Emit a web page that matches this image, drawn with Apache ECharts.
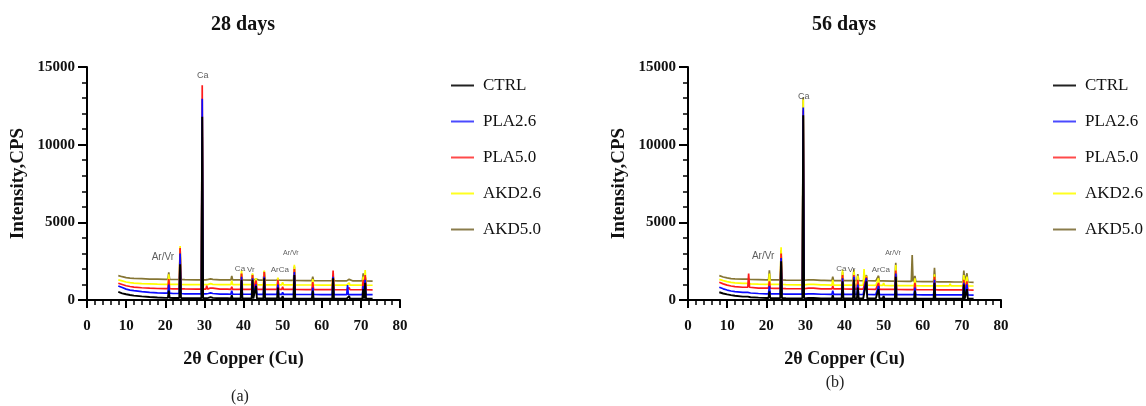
<!DOCTYPE html>
<html>
<head>
<meta charset="utf-8">
<script src="https://cdn.jsdelivr.net/npm/echarts@6/dist/echarts.min.js"></script>
<style>
html,body{margin:0;padding:0;background:#fff;}
#chart{width:1146px;height:406px;}
</style>
</head>
<body>
<div id="chart"></div>
<script>
// ---------- DATA ----------
const seriesNames = ['CTRL', 'PLA2.6', 'PLA5.0', 'AKD2.6', 'AKD5.0'];
const xTicks = [0, 10, 20, 30, 40, 50, 60, 70, 80];
const yTicks = [0, 5000, 10000, 15000];

// baseline sampling positions (2θ)
const baseX = [8, 9, 10, 11, 12, 14, 16, 18, 20, 22, 25, 28, 31, 34, 37, 40, 44, 48, 52, 56, 60, 64, 68, 73];

// ---- 28 days ----
const ctrl28Base = [520, 430, 370, 320, 280, 230, 190, 160, 140, 130, 120, 110, 140, 110, 100, 100, 95, 95, 90, 90, 90, 85, 85, 80];
const pla26_28Base = [900, 800, 700, 640, 600, 540, 490, 460, 440, 420, 400, 390, 420, 380, 370, 370, 365, 360, 360, 355, 350, 345, 340, 340];
const pla50_28Base = [1080, 1000, 920, 870, 830, 790, 760, 740, 730, 720, 710, 700, 760, 700, 690, 690, 685, 680, 680, 670, 665, 660, 660, 650];
const akd26_28Base = [1300, 1230, 1160, 1120, 1090, 1060, 1040, 1020, 1010, 1000, 995, 990, 1010, 990, 985, 985, 980, 975, 970, 965, 960, 955, 955, 950];
const akd50_28Base = [1570, 1500, 1440, 1410, 1390, 1370, 1350, 1340, 1330, 1320, 1310, 1300, 1330, 1300, 1290, 1285, 1280, 1270, 1260, 1250, 1240, 1230, 1225, 1210];

const peaks28 = [20.9, 23.8, 29.45, 30.6, 31.6, 32.4, 35.0, 36.1, 37.0, 39.5, 42.3, 43.2, 45.3, 48.8, 50.0, 53.0, 57.7, 62.9, 66.6, 67.0, 70.6, 71.1];
const ctrl28Tops  = [600, 2300, 11800, 220, 180, 200, 170, 160, 300, 1300, 1300, 900, 1400, 800, 250, 1600, 600, 1400, 150, 250, 700, 1100];
const pla26_28Tops = [1000, 3000, 12950, 500, 460, 480, 430, 420, 600, 1500, 1400, 1000, 1500, 1000, 500, 1800, 800, 1500, 960, 450, 900, 1300];
const pla50_28Tops = [1350, 3350, 13820, 920, 760, 800, 740, 730, 850, 1700, 1600, 1250, 1800, 1300, 850, 2000, 1150, 1890, 720, 800, 1300, 1600];
const akd26_28Tops = [1650, 3480, 11000, 1100, 1050, 1060, 1040, 1030, 1250, 1890, 1720, 1400, 1890, 1440, 1150, 2270, 1350, 1600, 990, 1100, 1500, 1930];
const akd50_28Tops = [1780, 3300, 10500, 1380, 1360, 1370, 1350, 1340, 1550, 1700, 1650, 1350, 1850, 1400, 1330, 2150, 1500, 1500, 1240, 1330, 1720, 1500];

// ---- 56 days ----
const ctrl56Base = [500, 420, 360, 310, 270, 220, 180, 150, 130, 120, 110, 105, 130, 105, 100, 100, 95, 95, 90, 90, 90, 85, 85, 80];
const pla26_56Base = [820, 720, 640, 580, 540, 490, 450, 420, 400, 390, 380, 375, 400, 370, 365, 360, 355, 350, 345, 340, 335, 330, 325, 320];
const pla50_56Base = [1140, 1040, 960, 900, 860, 820, 790, 770, 760, 745, 735, 725, 760, 715, 710, 705, 700, 690, 680, 670, 660, 655, 650, 640];
const akd26_56Base = [1330, 1250, 1180, 1130, 1100, 1070, 1040, 1020, 1010, 1000, 990, 980, 1000, 970, 960, 955, 950, 940, 930, 920, 915, 910, 905, 900];
const akd50_56Base = [1570, 1480, 1420, 1380, 1360, 1340, 1320, 1310, 1300, 1290, 1280, 1270, 1300, 1260, 1250, 1245, 1240, 1230, 1210, 1200, 1180, 1170, 1160, 1140];

const peaks56 = [15.5, 20.8, 23.8, 29.45, 31.0, 32.3, 35.0, 37.0, 39.5, 42.4, 43.4, 45.0, 45.6, 48.7, 50.0, 53.1, 57.3, 58.0, 63.0, 67.0, 70.5, 71.3];
const ctrl56Tops  = [180, 550, 2500, 11900, 200, 180, 160, 300, 1200, 1300, 800, 100, 1200, 700, 250, 1500, 90, 600, 1100, 200, 1000, 700];
const pla26_56Tops = [450, 900, 2700, 12400, 480, 520, 420, 600, 1400, 1500, 1000, 360, 1400, 900, 450, 1700, 340, 800, 1300, 450, 1100, 1000];
const pla50_56Tops = [1700, 1200, 3000, 12200, 800, 780, 760, 900, 1600, 1600, 1300, 700, 1500, 1100, 800, 1900, 670, 1100, 1500, 780, 1300, 1200];
const akd26_56Tops = [1050, 1700, 3390, 12900, 1050, 1030, 1010, 1300, 1950, 1900, 1550, 2000, 1550, 1400, 1100, 2250, 930, 1400, 1650, 1050, 1600, 1500];
const akd50_56Tops = [1320, 1910, 3200, 13050, 1340, 1320, 1300, 1500, 1800, 1970, 1670, 1300, 1600, 1560, 1330, 2400, 2900, 1545, 2080, 1290, 1890, 1720];

// peak annotations [2θ, intensity, text]
const ann28 = [[19.4, 2770, 'Ar/Vr'], [29.6, 14420, 'Ca'], [39.1, 2000, 'Ca'], [41.9, 1930, 'Vr'], [49.3, 1930, 'ArCa'], [52.1, 3020, 'Ar/Vr']];
const ann56 = [[19.2, 2790, 'Ar/Vr'], [29.6, 13090, 'Ca'], [39.2, 2000, 'Ca'], [41.8, 1930, 'Vr'], [49.3, 1930, 'ArCa'], [52.4, 3000, 'Ar/Vr']];

// ---------- BUILD ----------
const colors = {'CTRL': '#000000', 'PLA2.6': '#0a0aff', 'PLA5.0': '#ff1a1a', 'AKD2.6': '#ffff00', 'AKD5.0': '#857534'};
const legendColors = {'CTRL': '#222222', 'PLA2.6': '#4a4aff', 'PLA5.0': '#ff4a4a', 'AKD2.6': '#ffff20', 'AKD5.0': '#8a7c4c'};
const annSizes = [10, 9, 8, 8, 8, 7];
const halfW = 0.22;

function build(base, peaks, tops) {
  const pts = base.map((y, i) => [baseX[i], y]);
  peaks.forEach((p, i) => {
    let j = 0;
    for (let k = 0; k < baseX.length; k++) if (baseX[k] <= p) j = k;
    const foot = base[j];
    pts.push([p - halfW, foot], [p, tops[i]], [p + halfW, foot]);
  });
  pts.sort((a, b) => a[0] - b[0]);
  return pts;
}

const sets = [
  { // 28 days
    data: {
      'CTRL': build(ctrl28Base, peaks28, ctrl28Tops),
      'PLA2.6': build(pla26_28Base, peaks28, pla26_28Tops),
      'PLA5.0': build(pla50_28Base, peaks28, pla50_28Tops),
      'AKD2.6': build(akd26_28Base, peaks28, akd26_28Tops),
      'AKD5.0': build(akd50_28Base, peaks28, akd50_28Tops)
    },
    ann: ann28
  },
  { // 56 days
    data: {
      'CTRL': build(ctrl56Base, peaks56, ctrl56Tops),
      'PLA2.6': build(pla26_56Base, peaks56, pla26_56Tops),
      'PLA5.0': build(pla50_56Base, peaks56, pla50_56Tops),
      'AKD2.6': build(akd26_56Base, peaks56, akd26_56Tops),
      'AKD5.0': build(akd50_56Base, peaks56, akd50_56Tops)
    },
    ann: ann56
  }
];

const serif = '"Liberation Serif", "DejaVu Serif", serif';
const grids = [
  {left: 87, top: 67, width: 313, height: 233},
  {left: 688, top: 67, width: 313, height: 233}
];

function xAxisFor(i) {
  return {
    gridIndex: i, type: 'value', min: xTicks[0], max: xTicks[xTicks.length - 1], interval: 10,
    name: '2θ Copper (Cu)', nameLocation: 'middle', nameGap: 50,
    nameTextStyle: {fontFamily: serif, fontWeight: 'bold', fontSize: 18, color: '#111'},
    axisLine: {show: true, onZero: false, lineStyle: {color: '#000', width: 2}},
    axisTick: {show: true, length: 8, lineStyle: {color: '#000', width: 2}},
    minorTick: {show: true, splitNumber: 5, length: 5, lineStyle: {color: '#000', width: 1.5}},
    axisLabel: {fontFamily: serif, fontWeight: 'bold', fontSize: 15, color: '#111', margin: 19,
                formatter: v => String(v)},
    splitLine: {show: false}
  };
}
function yAxisFor(i) {
  return {
    gridIndex: i, type: 'value', min: yTicks[0], max: yTicks[yTicks.length - 1], interval: 5000,
    name: 'Intensity,CPS', nameLocation: 'middle', nameGap: 59,
    nameTextStyle: {fontFamily: serif, fontWeight: 'bold', fontSize: 19, color: '#111'},
    axisLine: {show: true, onZero: false, lineStyle: {color: '#000', width: 2}},
    axisTick: {show: true, length: 9, lineStyle: {color: '#000', width: 2}},
    minorTick: {show: true, splitNumber: 5, length: 5, lineStyle: {color: '#000', width: 1.5}},
    axisLabel: {fontFamily: serif, fontWeight: 'bold', fontSize: 15, color: '#111', margin: 12,
                formatter: v => String(v)},
    splitLine: {show: false}
  };
}

const drawOrder = ['AKD5.0', 'AKD2.6', 'PLA5.0', 'PLA2.6', 'CTRL'];
const series = [];
sets.forEach((set, gi) => {
  drawOrder.forEach(name => {
    series.push({
      name: name, type: 'line', xAxisIndex: gi, yAxisIndex: gi,
      data: set.data[name], symbol: 'none', showSymbol: false,
      legendIcon: 'rect',
      lineStyle: {color: colors[name], width: name === 'CTRL' ? 1.9 : 1.7},
      itemStyle: {color: legendColors[name]},
      animation: false, z: 2
    });
  });
  series.push({
    name: 'annotations', type: 'scatter', xAxisIndex: gi, yAxisIndex: gi,
    symbolSize: 1, itemStyle: {color: 'rgba(0,0,0,0)'}, silent: true, animation: false, z: 5,
    data: set.ann.map((a, k) => ({
      value: a,
      label: {show: true, position: 'inside', formatter: a[2], fontSize: annSizes[k],
              fontFamily: '"Liberation Sans", Arial, sans-serif', color: '#333'}
    }))
  });
});

function legendAt(left) {
  return {
    left: left, top: 72, orient: 'vertical', itemWidth: 23, itemHeight: 2, itemGap: 19,
    icon: 'rect',
    data: seriesNames, selectedMode: false,
    textStyle: {fontFamily: serif, fontSize: 17, lineHeight: 17, color: '#111', padding: [0, 0, 0, 4]}
  };
}

const chart = echarts.init(document.getElementById('chart'), null, {renderer: 'canvas'});
chart.setOption({
  backgroundColor: '#fff',
  animation: false,
  grid: grids,
  xAxis: [xAxisFor(0), xAxisFor(1)],
  yAxis: [yAxisFor(0), yAxisFor(1)],
  legend: [legendAt(446), legendAt(1048)],
  series: series,
  graphic: [
    {type: 'text', x: 243, y: 25, style: {text: '28 days', font: 'bold 20px ' + serif, fill: '#111', textAlign: 'center', textVerticalAlign: 'middle'}},
    {type: 'text', x: 844, y: 25, style: {text: '56 days', font: 'bold 20px ' + serif, fill: '#111', textAlign: 'center', textVerticalAlign: 'middle'}},
    {type: 'text', x: 240, y: 397, style: {text: '(a)', font: '16px ' + serif, fill: '#222', textAlign: 'center', textVerticalAlign: 'middle'}},
    {type: 'text', x: 835, y: 383, style: {text: '(b)', font: '16px ' + serif, fill: '#222', textAlign: 'center', textVerticalAlign: 'middle'}}
  ]
});
</script>
</body>
</html>
